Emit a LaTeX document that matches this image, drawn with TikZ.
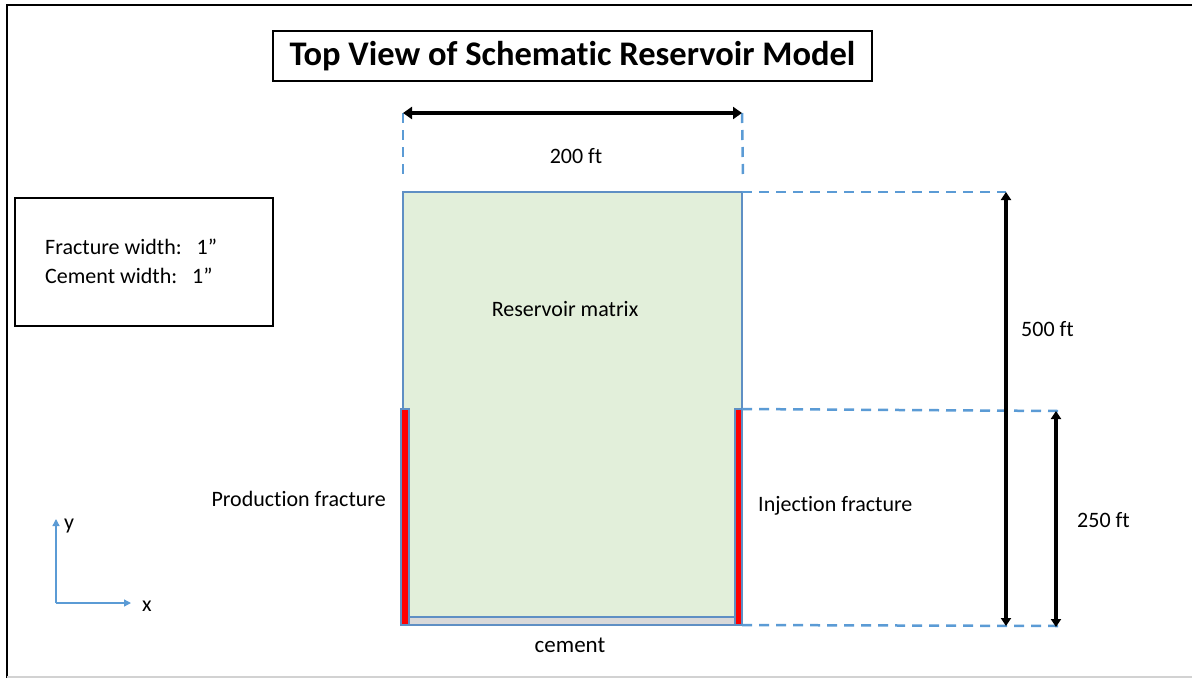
\documentclass[tikz,border=0pt]{standalone}
\usepackage{fontspec}
\setmainfont{Carlito}[Ligatures=NoCommon]
\usetikzlibrary{arrows.meta}
\definecolor{dimblue}{HTML}{5B9BD5}
\definecolor{edgeblue}{HTML}{5F8FC4}
\definecolor{matrixgreen}{HTML}{E2EFDA}
\definecolor{cementgray}{HTML}{D9D9D9}
\tikzset{
  body/.style={font=\fontsize{22}{26}\selectfont, inner sep=0pt},
  extline/.style={dimblue, line width=2.5pt, dash pattern=on 10pt off 7pt},
  dimarrow/.style={black, line width=4.5pt, {Triangle[length=9pt,width=12pt]}-{Triangle[length=9pt,width=12pt]}},
  vdimarrow/.style={black, line width=3.4pt, {Triangle[length=8pt,width=10pt]}-{Triangle[length=8pt,width=10pt]}},
  region/.style={draw=edgeblue, line width=1.2pt, inner sep=0pt, outer sep=0pt},
  frac/.style={region, fill=red},
  axis/.style={dimblue, line width=1.4pt, -{Triangle[length=7pt,width=7pt]}},
}
\begin{document}
\begin{tikzpicture}[x=1pt,y=-1pt]
\useasboundingbox (0,0) rectangle (1192,678);
% page frame
\draw[line width=2.6pt] (7,678) -- (7,5) -- (1192,5);
\draw[gray!35, line width=1.5pt] (7,677) -- (1192,677);

% title
\node[draw, line width=1.3pt, minimum width=599pt, minimum height=50pt, inner sep=0pt,
      font=\fontsize{34.5}{38}\selectfont\bfseries] (title) at (572.5,56) {Top View of Schematic Reservoir Model};

% legend box
\node[draw, line width=1.1pt, minimum width=258pt, minimum height=128pt, inner sep=0pt] (legend) at (144,262) {};
\node[body, anchor=west] (fw) at (45,247) {Fracture width:\ \ \ 1\textquotedblright};
\node[body, anchor=west] (cw) at (45,276) {Cement width:\ \ \ 1\textquotedblright};

% reservoir matrix
\node[region, fill=matrixgreen, minimum width=339pt, minimum height=433pt] (res) at (572.5,408.5) {};
% cement at the base
\node[region, fill=cementgray, minimum width=326pt, minimum height=8pt] (cem) at (572,621) {};
% fractures
\node[frac, minimum width=8pt, minimum height=216pt] (prod) at (405,517) {};
\node[frac, minimum width=7pt, minimum height=216pt] (inj) at (738.5,517) {};

% labels
\node[body] (lres) at (565,309) {Reservoir matrix};
\node[body, anchor=east] (lprod) at (386,499) {Production fracture};
\node[body, anchor=west] (linj) at (758,506) {Injection fracture};
\node[body, font=\fontsize{23}{26}\selectfont] (lcem) at (570,645) {cement};

% width dimension
\coordinate (wl) at (403,113);
\coordinate (wr) at (742,113);
\coordinate (wlb) at (403,178);
\coordinate (wrb) at (743,178);
\draw[extline] (wl) -- (wlb);
\draw[extline] (wr) -- (wrb);
\draw[dimarrow] (wl) -- (wr);
\node[body] (l200) at (576,156) {200 ft};

% length dimensions
\coordinate (t500) at (1006,192);
\coordinate (b500) at (1006,626);
\coordinate (t250) at (1056,411);
\coordinate (b250) at (1056,627);
\coordinate (e250) at (1058,411);
\coordinate (e0) at (1058,626);
\draw[extline] (res.north east) -- (t500);
\draw[extline] (inj.north east) -- (e250);
\draw[extline] (inj.south east) -- (e0);
\draw[vdimarrow] (t500) -- (b500);
\draw[vdimarrow] (t250) -- (b250);
\node[body, anchor=west] (l500) at (1021,329) {500 ft};
\node[body, anchor=west] (l250) at (1077,520) {250 ft};

% axes
\coordinate (o) at (56,603);
\coordinate (ytip) at (56,519);
\coordinate (xtip) at (131,603);
\draw[axis] (o) -- (ytip);
\draw[axis] (o) -- (xtip);
\node[body] (ly) at (69,526) {y};
\node[body] (lx) at (147,606) {x};
\end{tikzpicture}
\end{document}
